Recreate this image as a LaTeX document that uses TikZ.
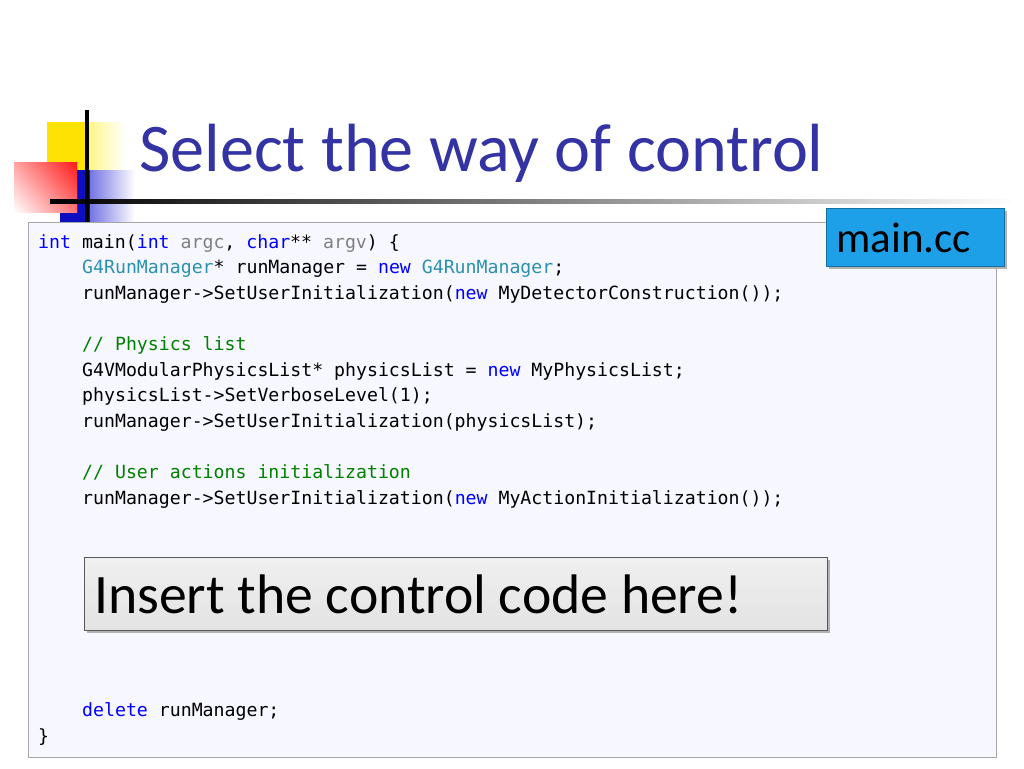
\documentclass[tikz,border=0pt]{standalone}
\usepackage{fontspec}
\setmainfont{Carlito}
\newfontfamily\codefont{DejaVu Sans Mono}
\begin{document}
\begin{tikzpicture}[x=1pt,y=-1pt,
  code/.style={anchor=base west,inner sep=0pt,font=\codefont\fontsize{18.2}{20}\selectfont}]
\definecolor{kwc}{HTML}{0000FF}\definecolor{tyc}{HTML}{2B91AF}\definecolor{cmc}{HTML}{008000}\definecolor{pmc}{HTML}{808080}
\definecolor{mcc}{HTML}{1EA0E8}
\newcommand\Kw[1]{\textcolor{kwc}{#1}}\newcommand\Ty[1]{\textcolor{tyc}{#1}}
\newcommand\Cm[1]{\textcolor{cmc}{#1}}\newcommand\Pm[1]{\textcolor{pmc}{#1}}
\useasboundingbox (0,0) rectangle (1024,768);
% logo
\shade[left color=yellow!85!orange,right color=white] (47,122) rectangle (125,170);
\fill[yellow!85!orange] (47,122) rectangle (85,170);
\shade[left color=blue!80!black!90,right color=white] (60,170) rectangle (135,222);
\fill[blue!75!black!95] (60,170) rectangle (90,222);
\shade[top color=red!90,bottom color=white] (14,162) rectangle (77,212);
\shade[right color=red!90,left color=white,opacity=0.6] (14,162) rectangle (77,212);
\shade[left color=black,right color=white] (50,199) rectangle (1015,203);
\fill[black] (85,110) rectangle (89,222);
\node[anchor=base west,inner sep=0pt,text=blue!55!black!80!white,font=\fontsize{68.2}{72}\selectfont] (title) at (139,171) {Select the way of control};
% code box
\node[draw=gray!70,fill=blue!3,minimum width=968,minimum height=535,anchor=north west,inner sep=0pt,line width=1] (box) at (28,222) {};
\node[code] (l1) at (38,248) {\Kw{int} main(\Kw{int} \Pm{argc}, \Kw{char}** \Pm{argv}) \{};
\node[code] (l2) at (82,273.6) {\Ty{G4RunManager}* runManager = \Kw{new} \Ty{G4RunManager};};
\node[code] (l3) at (82,299.2) {runManager->SetUserInitialization(\Kw{new} MyDetectorConstruction());};
\node[code] (l4) at (82,350.4) {\Cm{// Physics list}};
\node[code] (l5) at (82,376) {G4VModularPhysicsList* physicsList = \Kw{new} MyPhysicsList;};
\node[code] (l6) at (82,401.6) {physicsList->SetVerboseLevel(1);};
\node[code] (l7) at (82,427.2) {runManager->SetUserInitialization(physicsList);};
\node[code] (l8) at (82,478.4) {\Cm{// User actions initialization}};
\node[code] (l9) at (82,504) {runManager->SetUserInitialization(\Kw{new} MyActionInitialization());};
\node[code] (l10) at (82,716) {\Kw{delete} runManager;};
\node[code] (l11) at (38,742) {\}};
% main.cc
\fill[gray!60] (829,211) rectangle (1007,269);
\node[draw=mcc!70!black,fill=mcc,minimum width=178,minimum height=58,anchor=north west,inner sep=0pt] (mc) at (826,208) {};
\node[anchor=base west,inner sep=0pt,font=\fontsize{43}{46}\selectfont] (mct) at (836,252) {main.cc};
% insert box
\fill[gray!60] (87,560) rectangle (830,633);
\node[draw=gray!70!black,top color=gray!12,bottom color=gray!22,minimum width=743,minimum height=73,anchor=north west,inner sep=0pt] (ins) at (84,557) {};
\node[anchor=base west,inner sep=0pt,font=\fontsize{55.7}{60}\selectfont] (inst) at (94,613) {Insert the control code here!};
\end{tikzpicture}
\end{document}
